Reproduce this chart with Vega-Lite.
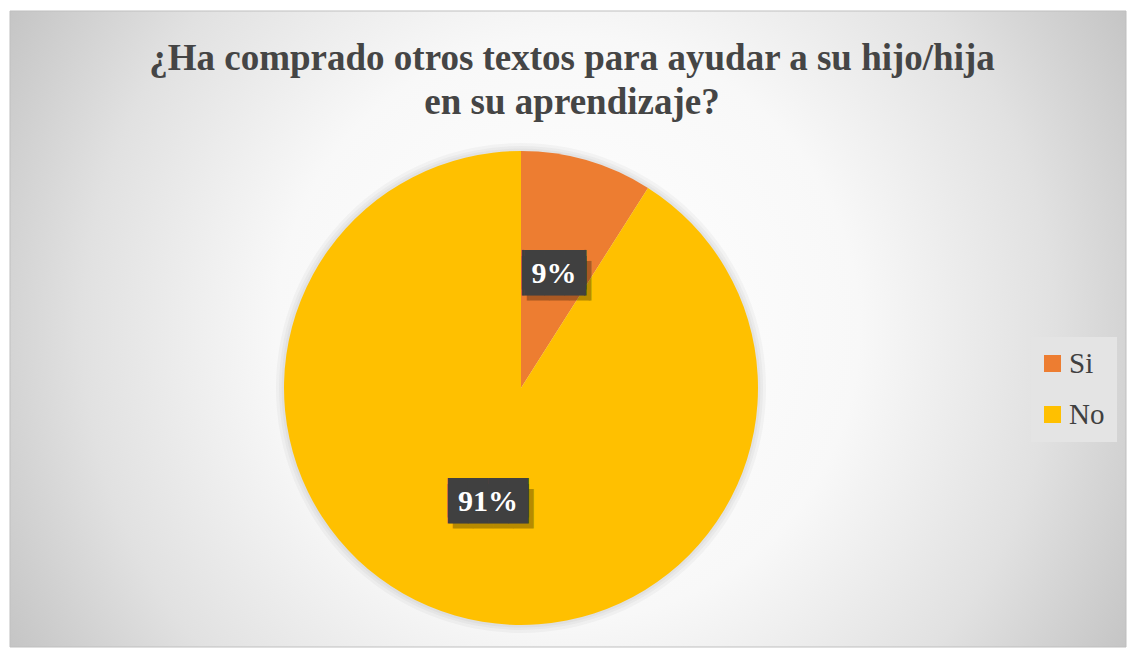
{
  "$schema": "https://vega.github.io/schema/vega-lite/v6.json",
  "width": 1127,
  "height": 648,
  "autosize": {"type": "fit", "contains": "padding"},
  "padding": {"left": 9, "top": 10, "right": 0, "bottom": 0},
  "background": "#ffffff",
  "title": {
    "text": ["¿Ha comprado otros textos para ayudar a su hijo/hija", "en su aprendizaje?"],
    "font": "Liberation Serif",
    "fontSize": 37,
    "fontWeight": "bold",
    "color": "#454545",
    "lineHeight": 44,
    "anchor": "middle",
    "offset": -111,
    "dx": 4
  },
  "config": {
    "view": {"stroke": null},
    "legend": {
      "orient": "none",
      "legendX": 1021,
      "legendY": 326,
      "fillColor": "#e4e4e4",
      "padding": 12,
      "symbolType": "square",
      "symbolSize": 289,
      "symbolStrokeWidth": 0,
      "symbolOffset": -5,
      "labelFont": "Liberation Serif",
      "labelFontSize": 29,
      "labelColor": "#404040",
      "rowPadding": 21,
      "labelOffset": 2
    }
  },
  "data": {"values": [
    {"Respuesta": "Si", "Porcentaje": 9, "Etiqueta": "9%"},
    {"Respuesta": "No", "Porcentaje": 91, "Etiqueta": "91%"}
  ]},
  "layer": [
    {
      "data": {"values": [{"fondo": 1}]},
      "mark": {
        "type": "rect",
        "stroke": "#bfbfbf",
        "strokeWidth": 1,
        "fill": {
          "gradient": "radial",
          "x1": 0.5, "y1": 0.5, "r1": 0,
          "x2": 0.5, "y2": 0.5, "r2": 0.58,
          "stops": [
            {"offset": 0, "color": "#ffffff"},
            {"offset": 0.45, "color": "#f8f8f8"},
            {"offset": 0.75, "color": "#e1e1e1"},
            {"offset": 1, "color": "#c4c4c4"}
          ]
        }
      },
      "encoding": {}
    },
    {
      "data": {"values": [{"fondo": 1}]},
      "mark": {"type": "arc", "radius": 245, "fill": "#000000", "opacity": 0.03},
      "encoding": {"x": {"value": 511}, "y": {"value": 377}}
    },
    {
      "data": {"values": [{"fondo": 1}]},
      "mark": {"type": "arc", "radius": 242, "fill": "#000000", "opacity": 0.03},
      "encoding": {"x": {"value": 511}, "y": {"value": 377}}
    },
    {
      "data": {"values": [{"fondo": 1}]},
      "mark": {"type": "arc", "radius": 239.5, "fill": "#000000", "opacity": 0.03},
      "encoding": {"x": {"value": 511}, "y": {"value": 377}}
    },
    {
      "mark": {"type": "arc", "radius": 237},
      "encoding": {
        "x": {"value": 511},
        "y": {"value": 377},
        "theta": {"field": "Porcentaje", "type": "quantitative", "stack": true},
        "order": {"field": "Respuesta", "sort": "descending"},
        "color": {
          "field": "Respuesta",
          "type": "nominal",
          "title": null,
          "scale": {"domain": ["Si", "No"], "range": ["#ED7D31", "#FFC000"]}
        }
      }
    },
    {
      "mark": {"type": "text", "radius": 118.5, "font": "DejaVu Sans Mono", "fontSize": 33.4, "baseline": "middle", "align": "center", "color": "#000000", "opacity": 0.28, "dx": 5, "dy": 8},
      "encoding": {
        "x": {"value": 511},
        "y": {"value": 377},
        "theta": {"field": "Porcentaje", "type": "quantitative", "stack": true},
        "order": {"field": "Respuesta", "sort": "descending"},
        "text": {"condition": {"test": "datum.Respuesta === 'No'", "value": "████"}, "value": "▕███▏"}
      }
    },
    {
      "mark": {"type": "text", "radius": 118.5, "font": "DejaVu Sans Mono", "fontSize": 33.4, "baseline": "middle", "align": "center", "color": "#404040", "dy": -3},
      "encoding": {
        "x": {"value": 511},
        "y": {"value": 377},
        "theta": {"field": "Porcentaje", "type": "quantitative", "stack": true},
        "order": {"field": "Respuesta", "sort": "descending"},
        "text": {"condition": {"test": "datum.Respuesta === 'No'", "value": "████"}, "value": "▕███▏"}
      }
    },
    {
      "mark": {"type": "text", "radius": 118.5, "font": "DejaVu Sans Mono", "fontSize": 33.4, "baseline": "middle", "align": "center", "color": "#404040", "dy": 3},
      "encoding": {
        "x": {"value": 511},
        "y": {"value": 377},
        "theta": {"field": "Porcentaje", "type": "quantitative", "stack": true},
        "order": {"field": "Respuesta", "sort": "descending"},
        "text": {"condition": {"test": "datum.Respuesta === 'No'", "value": "████"}, "value": "▕███▏"}
      }
    },
    {
      "mark": {"type": "text", "radius": 118.5, "font": "Liberation Serif", "fontSize": 30, "fontWeight": "bold", "baseline": "middle", "align": "center", "color": "#ffffff"},
      "encoding": {
        "x": {"value": 511},
        "y": {"value": 377},
        "theta": {"field": "Porcentaje", "type": "quantitative", "stack": true},
        "order": {"field": "Respuesta", "sort": "descending"},
        "text": {"field": "Etiqueta", "type": "nominal"}
      }
    }
  ]
}
